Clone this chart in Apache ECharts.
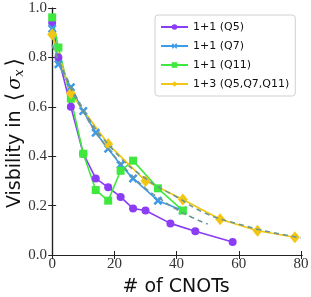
<!DOCTYPE html>
<html><head><meta charset="utf-8">
<script src="https://cdn.jsdelivr.net/npm/echarts@6/dist/echarts.min.js"></script>
<style>html,body{margin:0;padding:0;background:#fff}#c{width:311px;height:297px}</style>
</head><body><div id="c"></div>
<script>
const q5X = [0, 2, 6, 10, 14, 18, 22, 26, 30, 38, 46, 58];
const q5Y = [0.94, 0.80, 0.60, 0.41, 0.31, 0.274, 0.235, 0.188, 0.18, 0.128, 0.096, 0.053];
const q7X = [0, 2, 6, 10, 14, 18, 22, 26, 34, 42];
const q7Y = [0.916, 0.772, 0.679, 0.583, 0.495, 0.43, 0.365, 0.31, 0.22, 0.18];
const q11X = [0, 2, 6, 10, 14, 18, 22, 26, 34, 42];
const q11Y = [0.962, 0.84, 0.633, 0.41, 0.263, 0.22, 0.341, 0.382, 0.27, 0.18];
const allX = [0, 6, 18, 30, 42, 54, 66, 78];
const allY = [0.893, 0.655, 0.449, 0.30, 0.225, 0.145, 0.098, 0.072];
const fitQ7X = [0, 5, 10, 15, 20, 25, 30, 35, 40, 45, 50];
const fitQ7Y = [0.85, 0.70, 0.58, 0.48, 0.40, 0.33, 0.27, 0.225, 0.185, 0.152, 0.125];
const fitAllX = [0, 10, 20, 30, 40, 50, 60, 70, 80];
const fitAllY = [0.85, 0.59, 0.42, 0.31, 0.235, 0.165, 0.125, 0.093, 0.07];
const names = ['1+1 (Q5)', '1+1 (Q7)', '1+1 (Q11)', '1+3 (Q5,Q7,Q11)'];
const xTicks = [0, 20, 40, 60, 80];

const zip = (xs, ys) => xs.map((x, i) => [x, ys[i]]);
const colors = ['#8b3cf5', '#3f9be8', '#3fe83f', '#f2c614'];
const fitColor = '#6b9595';
const xMark = 'path://M2,0 L5,3 L8,0 L10,2 L7,5 L10,8 L8,10 L5,7 L2,10 L0,8 L3,5 L0,2 Z';

const chart = echarts.init(document.getElementById('c'), null, {renderer: 'canvas'});
const serif = 'Liberation Serif';
const mkSeries = (name, data, color, symbol, size) => ({
  name, type: 'line', data, symbol, symbolSize: size,
  lineStyle: {color, width: 1.6}, itemStyle: {color}, z: 3
});
chart.setOption({
  animation: false,
  grid: {left: 50, top: 8, right: 9, bottom: 42, outerBoundsMode: 'none', containLabel: false},
  legend: {
    data: names, left: 155, top: 15, orient: 'vertical',
    itemWidth: 27, itemHeight: 7, itemGap: 5,
    padding: [5, 6, 5, 5],
    borderColor: '#d0d0d0', borderWidth: 1, borderRadius: 3,
    backgroundColor: '#fff',
    textStyle: {fontFamily: 'DejaVu Sans', fontSize: 11, color: '#111', lineHeight: 14}
  },
  xAxis: [{
    type: 'value', min: -0.7, max: 80.3, interval: 20,
    name: '# of CNOTs', nameLocation: 'middle', nameGap: 23, nameMoveOverlap: false,
    nameTextStyle: {fontFamily: 'DejaVu Sans', fontSize: 19, color: '#111'},
    axisLine: {lineStyle: {color: '#222', width: 1.2}},
    axisTick: {inside: true, length: 4, lineStyle: {color: '#222'}, customValues: xTicks},
    axisLabel: {fontFamily: serif, fontSize: 15, color: '#333', margin: 2,
      customValues: xTicks, formatter: v => String(v)},
    splitLine: {show: false}
  }, {
    type: 'value', position: 'top', min: -0.7, max: 80.3, interval: 20,
    axisLine: {show: true, lineStyle: {color: '#222', width: 1.2}},
    axisTick: {inside: true, length: 4, lineStyle: {color: '#222'}, customValues: xTicks},
    axisLabel: {show: false}, splitLine: {show: false}
  }],
  yAxis: [{
    type: 'value', min: 0, max: 1, interval: 0.2,
    name: '{a|Visbility in }{d|⟨}{b|σ}{c|x}{d|⟩}', nameLocation: 'middle', nameGap: 24, nameMoveOverlap: false,
    nameTextStyle: {rich: {
      a: {fontFamily: 'DejaVu Sans', fontSize: 19, color: '#111'},
      d: {fontFamily: 'DejaVu Serif', fontSize: 22, color: '#111', padding: [0, 3, 0, 3]},
      b: {fontFamily: 'DejaVu Serif', fontStyle: 'italic', fontSize: 19, color: '#111'},
      c: {fontFamily: 'DejaVu Serif', fontStyle: 'italic', fontSize: 13, color: '#111', verticalAlign: 'bottom', padding: [8, 0, 0, 0]}
    }},
    axisLine: {show: true, lineStyle: {color: '#222', width: 1.2}},
    axisTick: {inside: true, length: 4, lineStyle: {color: '#222'}},
    axisLabel: {fontFamily: serif, fontSize: 15, color: '#333', margin: 3,
      formatter: v => v.toFixed(1)},
    splitLine: {show: false}
  }, {
    type: 'value', position: 'right', min: 0, max: 1, interval: 0.2,
    axisLine: {show: true, lineStyle: {color: '#222', width: 1.2}},
    axisTick: {inside: true, length: 4, lineStyle: {color: '#222'}},
    axisLabel: {show: false}, splitLine: {show: false}
  }],
  series: [
    mkSeries(names[0], zip(q5X, q5Y), colors[0], 'circle', 8),
    mkSeries(names[1], zip(q7X, q7Y), colors[1], xMark, 9),
    mkSeries(names[2], zip(q11X, q11Y), colors[2], 'rect', 8),
    mkSeries(names[3], zip(allX, allY), colors[3], 'diamond', [10, 12]),
    {type: 'line', data: zip(fitQ7X, fitQ7Y), smooth: true, symbol: 'none', z: 4,
      lineStyle: {color: fitColor, width: 1.6, type: [5, 4]}},
    {type: 'line', data: zip(fitAllX, fitAllY), smooth: true, symbol: 'none', z: 4,
      lineStyle: {color: fitColor, width: 1.6, type: [5, 4]}}
  ]
});
</script></body></html>
